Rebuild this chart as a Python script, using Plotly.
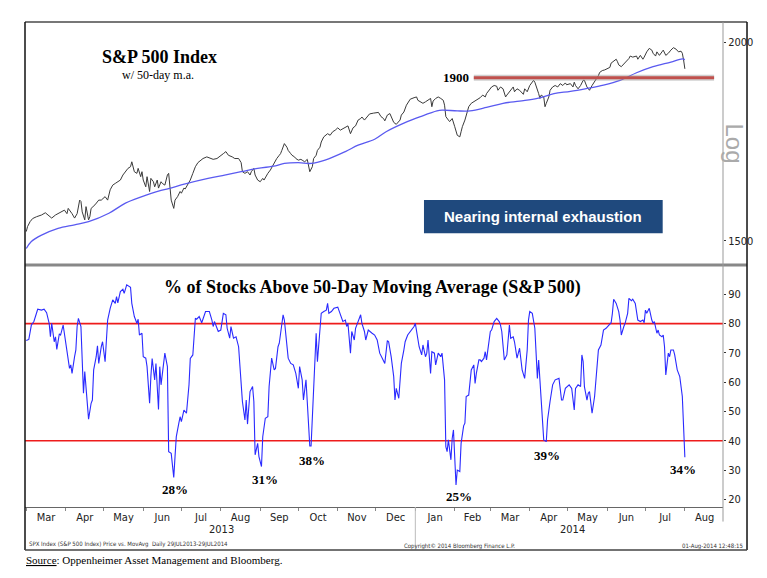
import plotly.graph_objects as go

# ---------------- data ----------------
price_dates = ["2013-03-01","2013-03-02","2013-03-04","2013-03-06","2013-03-09","2013-03-13","2013-03-16","2013-03-18","2013-03-21","2013-03-24","2013-03-26","2013-03-29","2013-03-31",
"2013-04-02","2013-04-03","2013-04-06","2013-04-08","2013-04-10","2013-04-12","2013-04-13","2013-04-14","2013-04-16","2013-04-17","2013-04-19","2013-04-20","2013-04-21","2013-04-24","2013-04-27","2013-04-29",
"2013-05-02","2013-05-04","2013-05-06","2013-05-08","2013-05-10","2013-05-12","2013-05-14","2013-05-16","2013-05-18","2013-05-20","2013-05-22","2013-05-23","2013-05-25","2013-05-27","2013-05-28","2013-05-30","2013-05-31",
"2013-06-01","2013-06-03","2013-06-04","2013-06-06","2013-06-07","2013-06-09","2013-06-10","2013-06-12","2013-06-13","2013-06-15","2013-06-16","2013-06-18","2013-06-20","2013-06-21","2013-06-22","2013-06-23","2013-06-25","2013-06-26","2013-06-28","2013-06-30",
"2013-07-01","2013-07-03","2013-07-04","2013-07-06","2013-07-08","2013-07-10","2013-07-12","2013-07-14","2013-07-16","2013-07-18","2013-07-21","2013-07-24","2013-07-26","2013-07-29","2013-07-31",
"2013-08-03","2013-08-05","2013-08-07","2013-08-10","2013-08-12","2013-08-15","2013-08-17","2013-08-18","2013-08-20","2013-08-22","2013-08-24","2013-08-25","2013-08-27","2013-08-28","2013-08-30",
"2013-09-01","2013-09-03","2013-09-04","2013-09-06","2013-09-07","2013-09-09","2013-09-11","2013-09-13","2013-09-14","2013-09-16","2013-09-17","2013-09-18","2013-09-20","2013-09-22","2013-09-23","2013-09-25","2013-09-26","2013-09-28","2013-09-29",
"2013-10-01","2013-10-03","2013-10-04","2013-10-06","2013-10-08","2013-10-09","2013-10-10","2013-10-12","2013-10-13","2013-10-15","2013-10-16","2013-10-18","2013-10-19","2013-10-21","2013-10-23","2013-10-24","2013-10-26","2013-10-28","2013-10-30",
"2013-11-01","2013-11-03","2013-11-05","2013-11-07","2013-11-09","2013-11-11","2013-11-13","2013-11-15","2013-11-17","2013-11-19","2013-11-20","2013-11-22","2013-11-25","2013-11-26","2013-11-29",
"2013-12-03","2013-12-05","2013-12-07","2013-12-08","2013-12-10","2013-12-12","2013-12-13","2013-12-15","2013-12-17","2013-12-20","2013-12-21","2013-12-23","2013-12-25","2013-12-27","2013-12-28","2013-12-31",
"2014-01-02","2014-01-03","2014-01-05","2014-01-07","2014-01-09","2014-01-11","2014-01-13","2014-01-14","2014-01-15","2014-01-17","2014-01-19","2014-01-21","2014-01-23","2014-01-24","2014-01-25","2014-01-27","2014-01-28","2014-01-30","2014-01-31",
"2014-02-01","2014-02-03","2014-02-05","2014-02-06","2014-02-07","2014-02-09","2014-02-10","2014-02-12","2014-02-14","2014-02-16","2014-02-18","2014-02-20","2014-02-21","2014-02-23","2014-02-25","2014-02-26","2014-02-28",
"2014-03-02","2014-03-04","2014-03-06","2014-03-07","2014-03-09","2014-03-11","2014-03-13","2014-03-14","2014-03-17","2014-03-19","2014-03-20","2014-03-22","2014-03-24","2014-03-27","2014-03-28","2014-03-30",
"2014-04-01","2014-04-04","2014-04-05","2014-04-07","2014-04-08","2014-04-09","2014-04-10","2014-04-12","2014-04-13","2014-04-14","2014-04-16","2014-04-17","2014-04-19","2014-04-21","2014-04-23","2014-04-25","2014-04-27","2014-04-29","2014-04-30",
"2014-05-03","2014-05-05","2014-05-06","2014-05-07","2014-05-09","2014-05-11","2014-05-13","2014-05-14","2014-05-16","2014-05-18","2014-05-20","2014-05-21","2014-05-23","2014-05-25","2014-05-26","2014-05-28","2014-05-30",
"2014-06-01","2014-06-03","2014-06-04","2014-06-06","2014-06-08","2014-06-09","2014-06-10","2014-06-12","2014-06-14","2014-06-16","2014-06-18","2014-06-19","2014-06-21","2014-06-24","2014-06-25","2014-06-27","2014-06-29","2014-06-30",
"2014-07-02","2014-07-04","2014-07-06","2014-07-07","2014-07-09","2014-07-10","2014-07-12","2014-07-14","2014-07-15","2014-07-17","2014-07-19","2014-07-21","2014-07-23","2014-07-25","2014-07-27","2014-07-29","2014-07-30","2014-07-31","2014-08-01"]
price_vals = [1520,1531,1542,1549,1553,1557,1562,1557,1550,1557,1560,1564,1568,
1560,1572,1560,1550,1560,1591,1588,1564,1546,1576,1546,1553,1572,1580,1591,1591,
1599,1591,1615,1626,1630,1634,1638,1650,1658,1666,1670,1682,1658,1654,1666,1646,1658,
1638,1622,1646,1611,1642,1634,1622,1638,1619,1634,1630,1626,1650,1654,1615,1591,1572,1591,1599,1611,
1607,1619,1617,1626,1638,1654,1670,1680,1685,1690,1694,1690,1688,1690,1694,
1702,1707,1698,1694,1690,1690,1680,1658,1654,1658,1650,1658,1666,1650,1638,
1634,1642,1638,1650,1654,1662,1674,1686,1690,1698,1702,1710,1727,1718,1710,1702,1698,1694,1690,
1686,1688,1686,1682,1688,1674,1658,1670,1690,1698,1710,1718,1731,1744,1748,1752,1748,1757,1761,
1767,1761,1765,1767,1772,1752,1767,1772,1787,1791,1795,1787,1799,1803,1805,
1807,1796,1791,1785,1800,1804,1796,1781,1776,1787,1800,1808,1826,1837,1842,1846,
1848,1839,1835,1831,1835,1839,1844,1822,1837,1844,1848,1844,1839,1826,1796,1787,1783,1791,1778,
1770,1748,1744,1757,1770,1787,1800,1822,1831,1835,1839,1844,1846,1853,1848,1857,1866,
1875,1879,1877,1866,1875,1870,1848,1853,1866,1875,1862,1870,1866,1855,1870,1862,
1879,1893,1888,1870,1857,1844,1853,1848,1822,1831,1848,1866,1875,1879,1875,1884,1879,1886,1881,
1884,1875,1888,1879,1870,1879,1893,1893,1875,1866,1879,1884,1897,1906,1915,1920,1922,
1925,1929,1941,1947,1952,1945,1936,1931,1938,1945,1954,1961,1958,1961,1952,1963,1952,1958,
1973,1983,1978,1969,1961,1973,1963,1973,1978,1963,1969,1978,1985,1981,1973,1975,1969,1950,1925]

ma_dates = ["2013-03-01","2013-03-05","2013-03-13","2013-03-26","2013-04-08","2013-04-19","2013-05-05","2013-05-18","2013-05-31","2013-06-13","2013-06-21","2013-07-04","2013-07-22","2013-08-04","2013-08-17","2013-08-30","2013-09-13","2013-09-20","2013-10-01","2013-10-11","2013-10-22","2013-11-07","2013-11-17","2013-11-30","2013-12-09","2013-12-23","2014-01-05","2014-01-18","2014-01-22","2014-02-03","2014-02-13","2014-02-26","2014-03-11","2014-03-24","2014-04-07","2014-04-20","2014-05-03","2014-05-16","2014-05-29","2014-06-11","2014-06-24","2014-07-07","2014-07-21","2014-07-30","2014-08-01"]
ma_vals = [1483,1498,1512,1527,1535,1542,1561,1584,1599,1612,1618,1629,1642,1650,1658,1666,1672,1678,1680,1678,1686,1707,1723,1738,1757,1779,1796,1811,1813,1811,1811,1820,1831,1837,1844,1857,1863,1871,1880,1893,1914,1931,1944,1953,1951]

pct_dates = ["2013-03-01","2013-03-03","2013-03-05","2013-03-07","2013-03-10","2013-03-13","2013-03-15","2013-03-17","2013-03-19","2013-03-20","2013-03-21","2013-03-23","2013-03-24","2013-03-25","2013-03-27","2013-03-28","2013-03-30",
"2013-04-01","2013-04-02","2013-04-04","2013-04-05","2013-04-06","2013-04-08","2013-04-09","2013-04-10","2013-04-11","2013-04-13","2013-04-14","2013-04-15","2013-04-16","2013-04-18","2013-04-19","2013-04-21","2013-04-22","2013-04-23","2013-04-25","2013-04-26","2013-04-27","2013-04-29","2013-04-30",
"2013-05-02","2013-05-03","2013-05-04","2013-05-06","2013-05-08","2013-05-10","2013-05-11","2013-05-12","2013-05-14","2013-05-16","2013-05-17","2013-05-19","2013-05-22","2013-05-23","2013-05-25","2013-05-27","2013-05-28","2013-05-29","2013-05-31",
"2013-06-01","2013-06-03","2013-06-04","2013-06-06","2013-06-07","2013-06-08","2013-06-10","2013-06-11","2013-06-13","2013-06-14","2013-06-15","2013-06-17","2013-06-18","2013-06-20","2013-06-21","2013-06-23","2013-06-25","2013-06-26","2013-06-27","2013-06-29","2013-06-30",
"2013-07-01","2013-07-03","2013-07-05","2013-07-07","2013-07-08","2013-07-10","2013-07-12","2013-07-13","2013-07-15","2013-07-17","2013-07-20","2013-07-23","2013-07-25","2013-07-26","2013-07-27","2013-07-30",
"2013-08-01","2013-08-03","2013-08-05","2013-08-06","2013-08-08","2013-08-09","2013-08-11","2013-08-13","2013-08-15","2013-08-17","2013-08-18","2013-08-20","2013-08-21","2013-08-22","2013-08-24","2013-08-26","2013-08-27","2013-08-28","2013-08-30","2013-08-31",
"2013-09-02","2013-09-03","2013-09-05","2013-09-07","2013-09-08","2013-09-10","2013-09-12","2013-09-13","2013-09-15","2013-09-16","2013-09-17","2013-09-19","2013-09-20","2013-09-22","2013-09-23","2013-09-25","2013-09-27","2013-09-29",
"2013-10-01","2013-10-02","2013-10-04","2013-10-05","2013-10-07","2013-10-08","2013-10-10","2013-10-11","2013-10-13","2013-10-14","2013-10-15","2013-10-16","2013-10-18","2013-10-19","2013-10-21","2013-10-23","2013-10-24","2013-10-25","2013-10-27","2013-10-29",
"2013-11-01","2013-11-03","2013-11-05","2013-11-07","2013-11-08","2013-11-09","2013-11-11","2013-11-12","2013-11-14","2013-11-15","2013-11-17","2013-11-19","2013-11-20","2013-11-22","2013-11-23","2013-11-25","2013-11-28","2013-11-30",
"2013-12-02","2013-12-04","2013-12-06","2013-12-08","2013-12-10","2013-12-11","2013-12-13","2013-12-15","2013-12-16","2013-12-17","2013-12-19","2013-12-20","2013-12-21","2013-12-23","2013-12-24","2013-12-26","2013-12-28","2013-12-31",
"2014-01-01","2014-01-03","2014-01-04","2014-01-06","2014-01-07","2014-01-09","2014-01-10","2014-01-11","2014-01-13","2014-01-14","2014-01-16","2014-01-17","2014-01-19","2014-01-21","2014-01-22","2014-01-24","2014-01-25","2014-01-26","2014-01-27","2014-01-29","2014-01-30","2014-01-31",
"2014-02-02","2014-02-03","2014-02-05","2014-02-06","2014-02-08","2014-02-09","2014-02-10","2014-02-12","2014-02-14","2014-02-16","2014-02-17","2014-02-18","2014-02-20","2014-02-21","2014-02-22","2014-02-24","2014-02-25","2014-02-26","2014-02-28",
"2014-03-01","2014-03-02","2014-03-04","2014-03-06","2014-03-08","2014-03-09","2014-03-10","2014-03-12","2014-03-14","2014-03-16","2014-03-17","2014-03-19","2014-03-20","2014-03-22","2014-03-24","2014-03-26","2014-03-28","2014-03-30","2014-03-31",
"2014-04-01","2014-04-03","2014-04-05","2014-04-06","2014-04-07","2014-04-08","2014-04-09","2014-04-11","2014-04-12","2014-04-14","2014-04-15","2014-04-17","2014-04-19","2014-04-21","2014-04-23","2014-04-24","2014-04-26","2014-04-27","2014-04-29",
"2014-05-01","2014-05-02","2014-05-04","2014-05-06","2014-05-07","2014-05-09","2014-05-11","2014-05-12","2014-05-13","2014-05-14","2014-05-16","2014-05-17","2014-05-18","2014-05-20","2014-05-22","2014-05-24","2014-05-25","2014-05-27","2014-05-28","2014-05-29","2014-05-31",
"2014-06-02","2014-06-04","2014-06-05","2014-06-06","2014-06-08","2014-06-10","2014-06-11","2014-06-12","2014-06-14","2014-06-15","2014-06-17","2014-06-18","2014-06-20","2014-06-21","2014-06-23","2014-06-24","2014-06-25","2014-06-27","2014-06-29","2014-06-30",
"2014-07-01","2014-07-02","2014-07-04","2014-07-06","2014-07-07","2014-07-08","2014-07-10","2014-07-11","2014-07-12","2014-07-14","2014-07-15","2014-07-16","2014-07-17","2014-07-19","2014-07-20","2014-07-21","2014-07-23","2014-07-24","2014-07-26","2014-07-28","2014-07-29","2014-07-30","2014-08-01"]
pct_vals = [74.2,74.6,79.5,80.7,84.9,84.6,84.9,83.7,80.1,75.5,80.1,73.8,75.5,71.2,76.5,76.1,79.5,
73.8,72.1,64.7,65.9,63.0,68.7,71.0,79.0,81.8,79.0,66.4,56.2,63.6,53.4,47.4,52.8,53.9,64.2,68.7,72.4,66.4,72.1,73.8,
67.0,73.8,81.2,85.2,88.1,86.9,89.2,87.1,90.9,91.7,90.3,93.2,92.4,86.9,82.4,80.1,81.5,76.1,76.7,
68.7,68.2,65.3,52.8,61.9,68.1,60.8,66.4,50.7,65.3,59.1,65.3,69.9,65.3,36.3,35.7,27.5,34.6,41.4,46.0,48.2,
46.5,50.5,49.4,59.1,68.1,69.3,81.8,81.5,82.4,80.3,84.1,84.1,81.2,79.0,80.7,77.3,
77.8,83.5,83.0,78.4,75.0,79.0,75.0,75.5,72.1,58.5,53.4,47.1,53.9,45.7,56.8,58.5,53.4,35.2,39.1,34.6,
31.2,41.4,47.7,48.2,58.5,68.2,64.2,64.7,72.1,73.3,76.7,83.0,81.2,72.1,68.2,66.4,65.9,63.0,
57.9,65.3,60.8,53.9,60.8,53.4,38.2,38.2,59.6,67.6,76.7,67.0,76.7,83.5,84.1,84.6,86.9,83.5,84.1,85.2,
85.6,83.0,80.7,81.2,79.0,80.1,69.9,77.3,74.4,78.4,80.7,83.0,80.1,77.3,74.4,77.8,76.7,76.1,
74.4,69.9,68.2,66.4,74.2,73.8,68.7,61.9,53.9,57.9,54.5,60.8,66.4,71.0,73.8,76.1,77.3,79.0,
80.1,73.8,72.1,69.3,72.7,68.7,69.9,74.4,63.0,70.4,69.9,65.9,69.9,68.7,69.9,60.8,38.0,36.3,40.3,33.5,40.8,43.7,
24.9,30.0,29.5,39.1,45.1,46.0,55.1,55.6,64.2,65.9,59.6,63.0,67.6,67.6,67.0,68.2,70.4,67.6,74.4,
77.3,77.8,80.7,81.8,80.7,79.5,77.3,67.6,69.3,79.5,75.0,75.5,73.8,68.2,71.6,64.2,61.3,71.0,81.2,
84.1,83.5,78.4,67.6,61.3,67.6,60.2,48.2,40.3,39.7,47.1,53.5,59.1,60.8,61.3,61.3,53.9,53.9,57.9,
58.5,59.1,57.9,50.5,57.9,59.1,58.5,69.3,67.0,58.5,53.9,56.2,56.8,49.4,55.1,64.2,71.0,72.7,75.5,77.8,78.4,
79.5,80.3,83.5,88.3,86.9,84.1,81.2,76.1,79.0,80.1,83.5,88.6,87.8,88.3,86.9,84.6,81.2,80.7,81.2,80.3,
84.6,83.5,85.2,81.2,80.1,80.7,76.7,77.8,76.1,75.5,76.1,72.1,62.5,69.9,68.7,71.0,71.0,69.3,64.2,61.9,57.9,55.1,34.4]

level_dates = ["2014-02-16", "2014-08-24"]
level_vals = [1900, 1900]
band_levels = [80, 40]

price_ticks = [1500, 2000]
pct_ticks = [20, 30, 40, 50, 60, 70, 80, 90]

low_labels = ["28%", "31%", "38%", "25%", "39%", "34%"]

# ---------------- figure ----------------
SERIF = "Liberation Serif, Times New Roman, serif"
NARROW = "Liberation Sans Narrow, DejaVu Sans Condensed, Arial Narrow, sans-serif"

fig = go.Figure()
fig.add_trace(go.Scatter(x=price_dates, y=price_vals, mode="lines",
                         line=dict(color="#3a3a3a", width=1), xaxis="x2", yaxis="y",
                         showlegend=False, hoverinfo="skip"))
fig.add_trace(go.Scatter(x=ma_dates, y=ma_vals, mode="lines", line_shape="spline",
                         line=dict(color="#5a5af0", width=1.3), xaxis="x2", yaxis="y",
                         showlegend=False, hoverinfo="skip"))
fig.add_trace(go.Scatter(x=level_dates, y=level_vals, mode="lines",
                         line=dict(color="rgba(150,150,150,0.45)", width=6), xaxis="x2", yaxis="y",
                         showlegend=False, hoverinfo="skip"))
fig.add_trace(go.Scatter(x=level_dates, y=level_vals, mode="lines",
                         line=dict(color="#c0504d", width=3), xaxis="x2", yaxis="y",
                         showlegend=False, hoverinfo="skip"))
fig.add_trace(go.Scatter(x=pct_dates, y=pct_vals, mode="lines",
                         line=dict(color="#2a2aff", width=1.1), xaxis="x", yaxis="y2",
                         showlegend=False, hoverinfo="skip"))

SPLIT = 0.499
RIGHT = 1.0344
BOTTOM = -0.0887

shapes = []
for lv in band_levels:
    shapes.append(dict(type="line", xref="paper", yref="y2", x0=0, x1=1, y0=lv, y1=lv,
                       line=dict(color="#ee1c1c", width=1.6), layer="below"))
# frame
shapes += [
    dict(type="line", xref="paper", yref="paper", x0=0, x1=RIGHT, y0=1, y1=1, line=dict(color="#777", width=2)),
    dict(type="line", xref="paper", yref="paper", x0=0, x1=RIGHT, y0=SPLIT, y1=SPLIT, line=dict(color="#888", width=3)),
    dict(type="line", xref="paper", yref="paper", x0=0, x1=0, y0=BOTTOM, y1=1, line=dict(color="#111", width=1.5)),
    dict(type="line", xref="paper", yref="paper", x0=RIGHT, x1=RIGHT, y0=BOTTOM, y1=1, line=dict(color="#111", width=1.5)),
    dict(type="line", xref="paper", yref="paper", x0=0, x1=RIGHT, y0=BOTTOM, y1=BOTTOM, line=dict(color="#444", width=1.5)),
    dict(type="line", xref="paper", yref="paper", x0=1, x1=1, y0=-0.03, y1=1, line=dict(color="#999", width=1)),
    dict(type="line", xref="paper", yref="paper", x0=0.5592, x1=0.5592, y0=-0.085, y1=0, line=dict(color="#bbb", width=1)),
    # blue box
    dict(type="rect", xref="paper", yref="paper", x0=0.5716, x1=0.9136, y0=0.5643, y1=0.633,
         fillcolor="#1f497d", line=dict(width=0)),
]

ann = [
    dict(text="<b>S&P 500 Index</b>", x=0.192, y=0.9285, font=dict(family=SERIF, size=18, color="#000")),
    dict(text="w/ 50-day m.a.", x=0.190, y=0.8907, font=dict(family=SERIF, size=12, color="#000")),
    dict(text="<b>1900</b>", x=0.6175, y=0.8852, font=dict(family=SERIF, size=13, color="#000")),
    dict(text="<b>Nearing internal exhaustion</b>", x=0.7426, y=0.5986,
         font=dict(family="Liberation Sans, Arial, sans-serif", size=15, color="#fff")),
    dict(text="Log", x=1.0172, y=0.7495, textangle=90,
         font=dict(family="Liberation Sans, Arial, sans-serif", size=24, color="#aaa")),
    dict(text="<b>% of Stocks Above 50-Day Moving Average (S&P 500)</b>", x=0.4979, y=0.4536,
         font=dict(family=SERIF, size=18, color="#000")),
    dict(text="2013", x=0.2822, y=-0.0474, font=dict(family=NARROW, size=11, color="#222")),
    dict(text="2014", x=0.7837, y=-0.0474, font=dict(family=NARROW, size=11, color="#222")),
    dict(text="SPX Index (S&P 500 Index) Price vs. MovAvg  Daily 29JUL2013-29JUL2014", x=0.003, y=-0.0763,
         xanchor="left", font=dict(family=NARROW, size=6, color="#333")),
    dict(text="Copyright© 2014 Bloomberg Finance L.P.", x=0.540, y=-0.0804,
         xanchor="left", font=dict(family=NARROW, size=6, color="#333")),
    dict(text="01-Aug-2014 12:48:15", x=1.0315, y=-0.0804,
         xanchor="right", font=dict(family=NARROW, size=6, color="#333")),
    dict(text="<u>Source</u>: Oppenheimer Asset Management and Bloomberg.", x=-0.002, y=-0.1093,
         xanchor="left", font=dict(family=SERIF, size=11, color="#000")),
]
label_pos = [(0.2149, 0.0351), (0.3438, 0.0557), (0.4107, 0.0969), (0.6222, 0.0212), (0.7474, 0.1052), (0.9431, 0.0763)]
for txt, (lx, ly) in zip(low_labels, label_pos):
    ann.append(dict(text="<b>%s</b>" % txt, x=lx, y=ly, font=dict(family=SERIF, size=13, color="#000")))
for a in ann:
    a.setdefault("xref", "paper")
    a.setdefault("yref", "paper")
    a.setdefault("showarrow", False)
    a.setdefault("xanchor", "center")
    a.setdefault("yanchor", "middle")

xr = ["2013-02-28", "2014-08-31"]
fig.update_layout(
    width=767, height=578,
    margin=dict(l=25, r=44, t=22, b=71, autoexpand=False),
    paper_bgcolor="white", plot_bgcolor="white",
    showlegend=False,
    xaxis=dict(domain=[0, 1], anchor="y2", type="date", range=xr, automargin=False,
               dtick="M1", tick0="2013-03-01", tickformat="%b", ticklabelmode="period",
               ticks="outside", ticklen=3, tickcolor="#888", showgrid=False, zeroline=False,
               showline=True, linecolor="#666", linewidth=1, ticklabelstandoff=-3,
               tickfont=dict(family=NARROW, size=11, color="#222")),
    xaxis2=dict(domain=[0, 1], anchor="y", type="date", range=xr, matches="x", automargin=False,
                visible=False, showgrid=False),
    yaxis=dict(domain=[SPLIT, 1], anchor="x2", type="log", side="right", automargin=False,
               range=[3.16077, 3.31395], tickvals=price_ticks, ticktext=[str(v) for v in price_ticks],
               ticks="outside", ticklen=2, tickcolor="#333", showgrid=False, zeroline=False,
               showline=False, tickfont=dict(family=NARROW, size=11, color="#222")),
    yaxis2=dict(domain=[0, SPLIT], anchor="x", side="right", range=[17.4, 100], automargin=False,
                tickvals=pct_ticks, ticks="outside", ticklen=2, tickcolor="#333",
                showgrid=False, zeroline=False, showline=False,
                tickfont=dict(family=NARROW, size=11, color="#222")),
    shapes=shapes,
    annotations=ann,
)

fig.write_html("out.html", config={"displayModeBar": False},
               post_script="document.body.style.margin='0px';document.body.style.padding='0px';")
